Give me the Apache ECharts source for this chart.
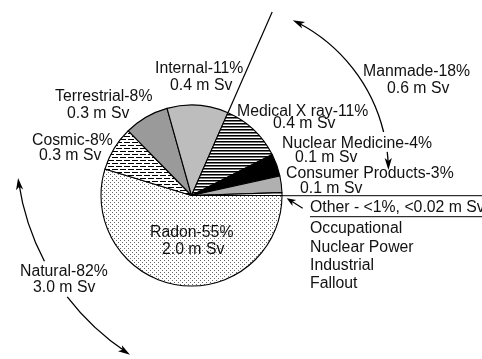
<!DOCTYPE html>
<html>
<head>
<meta charset="utf-8">
<script src="https://cdn.jsdelivr.net/npm/echarts@6/dist/echarts.min.js"></script>
<style>
  html, body { margin: 0; padding: 0; background: #fff; }
  #chart { width: 482px; height: 359px; }
</style>
</head>
<body>
<div id="chart"></div>
<script>
// Sources of average annual radiation dose
const categories = ['Radon', 'Cosmic', 'Terrestrial', 'Internal', 'Medical X ray', 'Nuclear Medicine', 'Consumer Products', 'Other'];
const shares = [55, 8, 8, 11, 11, 4, 3, 0.5];
const shareLabels = ['55%', '8%', '8%', '11%', '11%', '4%', '3%', '<1%'];
const doses = ['2.0', '0.3', '0.3', '0.4', '0.4', '0.1', '0.1', '<0.02'];
const groupNames = ['Natural', 'Manmade'];
const groupShares = ['82%', '18%'];
const groupDoses = ['3.0', '0.6'];
const otherSources = ['Occupational', 'Nuclear Power', 'Industrial', 'Fallout'];
const naturalCount = 4; // first four categories are natural sources

// ---- layout (pixels) ----
const CX = 191.5, CY = 195.5, R = 90.5;
const FONT = '15.8px "Liberation Sans", Arial, sans-serif';
const INK = '#111';
// label anchors: [line1 left, line1 mid y, line2 left, line2 mid y]
const labelPos = [
  [150, 232.5, 162, 249.5],
  [32, 140.5, 39, 156],
  [55, 97, 67, 113.5],
  [155, 69, 170, 85.5],
  [237, 111.5, 273, 124],
  [282, 143.5, 295, 158],
  [286, 174, 300, 188.5],
  [310, 207.5]
];
const groupPos = [[20, 272, 33, 288], [363, 71.5, 387, 88.5]];
const otherListX = 310, otherListY = [229, 248, 266, 284];

// ---- fill patterns ----
function makePattern(w, h, draw) {
  const c = document.createElement('canvas');
  c.width = w; c.height = h;
  const g = c.getContext('2d');
  g.fillStyle = '#fff'; g.fillRect(0, 0, w, h);
  draw(g);
  return { image: c, repeat: 'repeat' };
}
const stipple = makePattern(4, 4, g => {
  g.fillStyle = '#666';
  g.fillRect(0, 0, 1, 1);
  g.fillRect(2, 2, 1, 1);
});
const dashes = makePattern(8, 6, g => {
  g.fillStyle = '#000';
  g.fillRect(0, 1, 6, 1);
  g.fillRect(4, 4, 4, 1);
  g.fillRect(0, 4, 2, 1);
});
const stripes = makePattern(4, 3, g => {
  g.fillStyle = '#000';
  g.fillRect(0, 0, 4, 1);
  g.fillStyle = '#777';
  g.fillRect(0, 1, 4, 1);
});
const fills = [stipple, dashes, '#9a9a9a', '#bdbdbd', stripes, '#000', '#b0b0b0', '#fff'];

const pieData = categories.map((name, i) => ({
  name: name,
  value: shares[i],
  itemStyle: { color: fills[i] }
}));

// ---- annotation helpers ----
const deg = Math.PI / 180;
function arrowHead(tx, ty, dx, dy, len, half, notch) {
  const nx = -dy, ny = dx;
  return {
    type: 'polygon',
    silent: true,
    z: 20,
    shape: {
      points: [
        [tx, ty],
        [tx - len * dx + half * nx, ty - len * dy + half * ny],
        [tx - (len - notch) * dx, ty - (len - notch) * dy],
        [tx - len * dx - half * nx, ty - len * dy - half * ny]
      ]
    },
    style: { fill: '#000' }
  };
}
function arcSeg(cx, cy, r, a0, a1) {
  return {
    type: 'arc',
    silent: true,
    z: 20,
    shape: { cx: cx, cy: cy, r: r, startAngle: a0 * deg, endAngle: a1 * deg, clockwise: true },
    style: { stroke: '#000', fill: null, lineWidth: 1.3 }
  };
}
function text(str, x, y) {
  return {
    type: 'text',
    silent: true,
    z: 30,
    style: { text: str, x: x, y: y, font: FONT, fill: INK, align: 'left', verticalAlign: 'middle' }
  };
}
function line(x1, y1, x2, y2, w) {
  return {
    type: 'line',
    silent: true,
    z: 20,
    shape: { x1: x1, y1: y1, x2: x2, y2: y2 },
    style: { stroke: '#000', lineWidth: w || 1 }
  };
}

const graphics = [];

// slice labels
categories.forEach((name, i) => {
  const p = labelPos[i];
  if (i === categories.length - 1) {
    graphics.push(text(name + ' - ' + shareLabels[i] + ', ' + doses[i] + ' m Sv', p[0], p[1]));
  } else {
    graphics.push(text(name + '-' + shareLabels[i], p[0], p[1]));
    graphics.push(text(doses[i] + ' m Sv', p[2], p[3]));
  }
});
// group labels
groupNames.forEach((name, i) => {
  const p = groupPos[i];
  graphics.push(text(name + '-' + groupShares[i], p[0], p[1]));
  graphics.push(text(groupDoses[i] + ' m Sv', p[2], p[3]));
});
// minor sources grouped under "Other"
otherSources.forEach((s, i) => graphics.push(text(s, otherListX, otherListY[i])));

// divider between natural and manmade slices, extended outward
const total = shares.reduce((a, b) => a + b, 0);
const naturalShare = shares.slice(0, naturalCount).reduce((a, b) => a + b, 0);
const divAngle = naturalShare / total * 2 * Math.PI;
const ux = Math.cos(divAngle), uy = Math.sin(divAngle);
const reach = (CY - 12) / -uy;
graphics.push(line(CX + ux * R, CY + uy * R, CX + ux * reach, CY + uy * reach, 1.2));

// rules to the right of the pie
graphics.push(line(CX + R, 195.7, 482, 195.7, 1));
graphics.push(line(310, 216.7, 482, 216.7, 1));
// short pointer to the "Other" slice
graphics.push(line(302.7, 208.3, 292, 201.6, 1.2));
(function () {
  const dx = 286.7 - 302.7, dy = 198.3 - 208.3, L = Math.hypot(dx, dy);
  graphics.push(arrowHead(286.7, 198.3, dx / L, dy / L, 9, 3.5, 2.5));
})();

// manmade bracket arc
(function () {
  const ax = 220.4, ay = 171.8, ar = 168;
  const top = -64.5, bot = -0.6;
  graphics.push(arcSeg(ax, ay, ar, top + 2, -13.7));
  graphics.push(arcSeg(ax, ay, ar, -6.8, bot - 2));
  let t = top * deg;
  graphics.push(arrowHead(ax + ar * Math.cos(t), ay + ar * Math.sin(t), Math.sin(t), -Math.cos(t), 12, 3.6, 3));
  t = bot * deg;
  graphics.push(arrowHead(ax + ar * Math.cos(t), ay + ar * Math.sin(t), -Math.sin(t), Math.cos(t), 12, 3.6, 3));
})();

// natural bracket arc
(function () {
  const ax = 264, ay = 146, ar = 248;
  const top = 172.6, bot = 122.7;
  graphics.push(arcSeg(ax, ay, ar, 152.3, top - 1));
  graphics.push(arcSeg(ax, ay, ar, bot + 1, 142.5));
  let t = top * deg;
  graphics.push(arrowHead(ax + ar * Math.cos(t), ay + ar * Math.sin(t), -Math.sin(t), Math.cos(t), 12, 3.6, 3));
  t = bot * deg;
  graphics.push(arrowHead(ax + ar * Math.cos(t), ay + ar * Math.sin(t), Math.sin(t), -Math.cos(t), 12, 3.6, 3));
})();

const chart = echarts.init(document.getElementById('chart'), null, { renderer: 'canvas' });
chart.setOption({
  backgroundColor: '#fff',
  animation: false,
  series: [{
    type: 'pie',
    center: [CX, CY],
    radius: R,
    startAngle: 0,
    clockwise: true,
    avoidLabelOverlap: false,
    minAngle: 0,
    label: { show: false },
    labelLine: { show: false },
    emphasis: { disabled: true },
    itemStyle: { borderColor: '#000', borderWidth: 1.1 },
    data: pieData
  }],
  graphic: graphics
});
</script>
</body>
</html>
